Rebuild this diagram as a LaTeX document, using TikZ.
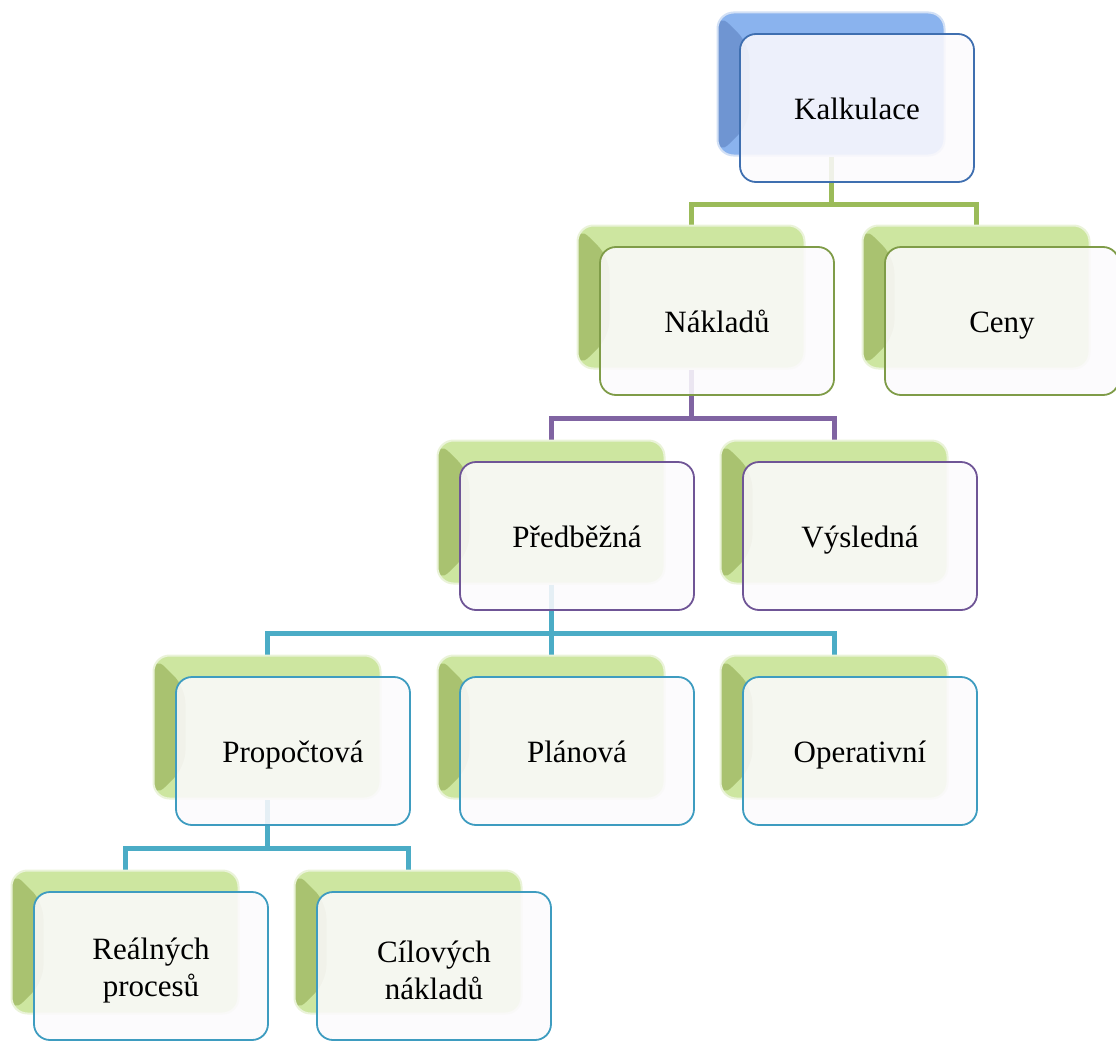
\documentclass[tikz,border=0pt]{standalone}
\usepackage{fontspec}
\setmainfont{Liberation Serif}
\usetikzlibrary{shapes, calc, backgrounds}

\definecolor{linkgreen}{HTML}{9BBB59}
\definecolor{linkpurple}{HTML}{8064A2}
\definecolor{linkcyan}{HTML}{4BACC6}
\definecolor{edgeblue}{HTML}{3F6FB0}
\definecolor{edgegreen}{HTML}{7F9C48}
\definecolor{edgepurple}{HTML}{6F5596}
\definecolor{edgecyan}{HTML}{3E9CC0}
\definecolor{frontfill}{HTML}{FCFAFD}
\definecolor{greentop}{HTML}{CDE6A0}
\definecolor{greenside}{HTML}{A9C270}
\definecolor{greenrim}{HTML}{DCEBC0}
\definecolor{bluetop}{HTML}{8AB3EE}
\definecolor{blueside}{HTML}{6F95D2}
\definecolor{bluerim}{HTML}{B4CCEE}

\tikzset{
	backbox/.style 2 args={rectangle, rounded corners=16pt, minimum width=227pt,
		minimum height=143pt, draw=#2!60, line width=2pt, fill=#1top,
		path picture={
			\fill[#1side] (path picture bounding box.north west)
				-- ++(32,32) -- ($(path picture bounding box.south west)+(32,-32)$)
				-- (path picture bounding box.south west) -- cycle;
		}},
	greenback/.style={backbox={green}{greenrim}},
	blueback/.style={backbox={blue}{bluerim}},
	frontbox/.style={rectangle, rounded corners=16pt, minimum width=234pt,
		minimum height=148pt, draw=#1, line width=1.8pt, fill=frontfill,
		fill opacity=0.87, text opacity=1, align=center,
		font=\fontsize{31}{37}\selectfont},
	oneline/.style={text height=22pt, text depth=0pt},
	conn/.style={draw=#1, line width=5pt}
}

\begin{document}
\begin{tikzpicture}[x=1pt, y=-1pt]
	\def \dx {26}
	\def \dy {24}
	\useasboundingbox (0,0) rectangle (1116,1041);

	% back shapes
	\node[blueback]  (kalkB) at (831,84)  {};
	\node[greenback] (nakB)  at (691,297) {};
	\node[greenback] (cenyB) at (976,297) {};
	\node[greenback] (predB) at (551,512) {};
	\node[greenback] (vysB)  at (834,512) {};
	\node[greenback] (propB) at (267,727) {};
	\node[greenback] (planB) at (551,727) {};
	\node[greenback] (operB) at (834,727) {};
	\node[greenback] (realB) at (125,942) {};
	\node[greenback] (cilB)  at (408,942) {};

	% front shapes
	\node[frontbox=edgeblue, oneline]   (kalk) at ($(kalkB)+(\dx,\dy)$) {Kalkulace};
	\node[frontbox=edgegreen, oneline]  (nak)  at ($(nakB)+(\dx,\dy)$)  {Nákladů};
	\node[frontbox=edgegreen, oneline]  (ceny) at ($(cenyB)+(\dx,\dy)$) {Ceny};
	\node[frontbox=edgepurple, oneline] (pred) at ($(predB)+(\dx,\dy)$) {Předběžná};
	\node[frontbox=edgepurple, oneline] (vys)  at ($(vysB)+(\dx,\dy)$)  {Výsledná};
	\node[frontbox=edgecyan, oneline]   (prop) at ($(propB)+(\dx,\dy)$) {Propočtová};
	\node[frontbox=edgecyan, oneline]   (plan) at ($(planB)+(\dx,\dy)$) {Plánová};
	\node[frontbox=edgecyan, oneline]   (oper) at ($(operB)+(\dx,\dy)$) {Operativní};
	\node[frontbox=edgecyan]   (real) at ($(realB)+(\dx,\dy)$) {\rule{0pt}{30pt}Reálných\\procesů};
	\node[frontbox=edgecyan]   (cil)  at ($(cilB)+(\dx,\dy)$)  {\rule{0pt}{30pt}Cílových\\nákladů};

	% connectors
	\begin{scope}[on background layer]
		\coordinate (kalkJ) at ($(kalkB.south)+(0,48)$);
		\coordinate (nakJ)  at ($(nakB.south)+(0,49)$);
		\coordinate (predJ) at ($(predB.south)+(0,49)$);
		\coordinate (propJ) at ($(propB.south)+(0,49)$);

		\draw[conn=linkgreen] (kalkB.south) -- (kalkJ);
		\draw[conn=linkgreen] (nakB.north) |- (kalkJ) -| (cenyB.north);

		\draw[conn=linkpurple] (nakB.south) -- (nakJ);
		\draw[conn=linkpurple] (predB.north) |- (nakJ) -| (vysB.north);

		\draw[conn=linkcyan] (predB.south) -- (predJ) -- (planB.north);
		\draw[conn=linkcyan] (propB.north) |- (predJ) -| (operB.north);

		\draw[conn=linkcyan] (propB.south) -- (propJ);
		\draw[conn=linkcyan] (realB.north) |- (propJ) -| (cilB.north);
	\end{scope}
\end{tikzpicture}
\end{document}
